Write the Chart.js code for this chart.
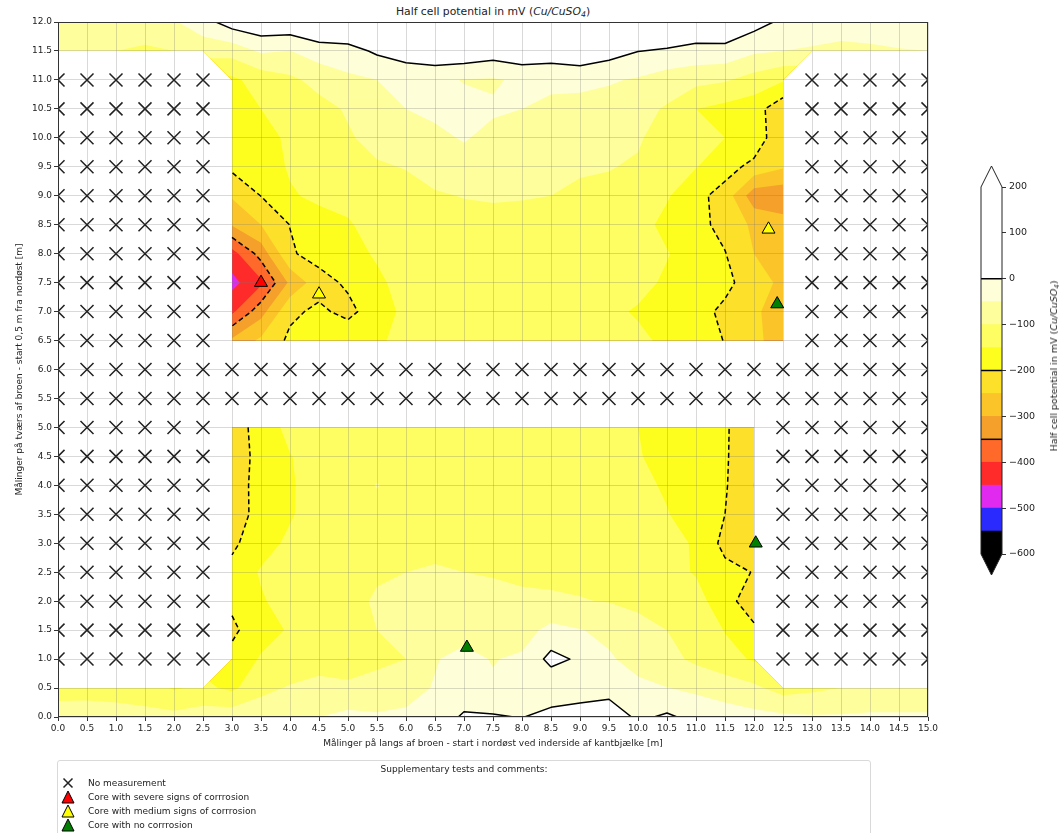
<!DOCTYPE html>
<html>
<head>
<meta charset="utf-8">
<script src="https://cdn.jsdelivr.net/npm/chart.js@4.4.1/dist/chart.umd.min.js"></script>
<style>
  html, body { margin: 0; padding: 0; background: #fff; }
  body { width: 1060px; height: 833px; position: relative; overflow: hidden;
         font-family: "DejaVu Sans", sans-serif; color: #222; }
  canvas { position: absolute; }
  #main { left: 0; top: 0; }
  #cbar { left: 960px; top: 150px; }
  #title { position: absolute; left: 0; top: 5px; width: 986px; text-align: center;
           font-size: 10.8px; line-height: 14px; }
  #cbtitle { position: absolute; left: 1054px; top: 366px; white-space: nowrap;
             transform: translate(-50%, -50%) rotate(-90deg); font-size: 9.5px; line-height: 12px; }
  sub { font-size: 0.72em; vertical-align: -0.25em; line-height: 0; }
  #legend { position: absolute; left: 57px; top: 760px; width: 812px; height: 90px;
            border: 1px solid #d9d9d9; border-radius: 3px; font-size: 9px; }
  #legend .head { position: absolute; left: 0; width: 100%; top: 2px; text-align: center; line-height: 12px; }
  #legend .row { position: absolute; left: 0; height: 14px; line-height: 14px; white-space: nowrap; }
  #legend .row svg { position: absolute; left: 2px; top: 0; }
  #legend .row span { position: absolute; left: 30px; top: 0; }
</style>
</head>
<body>
<div id="title">Half cell potential in mV (<i>Cu/CuSO<sub>4</sub></i>)</div>
<canvas id="main" width="1060" height="833"></canvas>
<canvas id="cbar" width="100" height="450"></canvas>
<div id="cbtitle">Half cell potential in mV (<i>Cu/CuSO<sub>4</sub></i>)</div>

<div id="legend">
  <div class="head">Supplementary tests and comments:</div>
  <div class="row" style="top:15px"><svg width="16" height="14"><path d="M3.5 2.5 L12.5 11.5 M12.5 2.5 L3.5 11.5" stroke="#222" stroke-width="1.5"/></svg><span>No measurement</span></div>
  <div class="row" style="top:29px"><svg width="16" height="14"><polygon points="8,1 14,13 2,13" fill="red" stroke="#000" stroke-width="1"/></svg><span>Core with severe signs of corrrosion</span></div>
  <div class="row" style="top:43px"><svg width="16" height="14"><polygon points="8,1 14,13 2,13" fill="yellow" stroke="#000" stroke-width="1"/></svg><span>Core with medium signs of corrrosion</span></div>
  <div class="row" style="top:57px"><svg width="16" height="14"><polygon points="8,1 14,13 2,13" fill="green" stroke="#000" stroke-width="1"/></svg><span>Core with no corrrosion</span></div>
</div>

<script>
// Measurement grid: x along the bridge, y across the bridge (metres)
const X_POS = [0, 0.5, 1, 1.5, 2, 2.5, 3, 3.5, 4, 4.5, 5, 5.5, 6, 6.5, 7, 7.5, 8, 8.5, 9, 9.5, 10, 10.5, 11, 11.5, 12, 12.5, 13, 13.5, 14, 14.5, 15];
const Y_POS = [0, 0.5, 1, 1.5, 2, 2.5, 3, 3.5, 4, 4.5, 5, 5.5, 6, 6.5, 7, 7.5, 8, 8.5, 9, 9.5, 10, 10.5, 11, 11.5, 12];

// Half cell potential (mV) per row; null = no measurement
const _ = null;
const r000 = [-75, -80, -80, -85, -85, -75, -70, -65, -55, -50, -40, -45, -45, -40, 10, 5, -2, 20, 30, 35, -10, 8, -15, -30, -35, -40, -45, -45, -40, -40, -40];
const r005 = [-120, -115, -120, -125, -155, -140, -160, -115, -95, -85, -80, -75, -60, -48, -45, -45, -48, -40, -32, -22, -40, -49, -60, -70, -90, -120, -110, -100, -100, -100, -100];
const r010 = [_, _, _, _, _, _, -185, -145, -135, -120, -152, -115, -100, -52, -40, -52, -43, 15, -8, -45, -65, -85, -110, -135, -155, _, _, _, _, _, _];
const r015 = [_, _, _, _, _, _, -210, -170, -145, -120, -110, -100, -85, -70, -62, -70, -70, -35, -48, -60, -88, -100, -120, -152, -195, _, _, _, _, _, _];
const r020 = [_, _, _, _, _, _, -190, -155, -130, -115, -105, -98, -92, -88, -90, -92, -95, -95, -98, -102, -108, -118, -125, -190, -215, _, _, _, _, _, _];
const r025 = [_, _, _, _, _, _, -185, -145, -135, -120, -110, -102, -100, -98, -100, -102, -105, -108, -110, -112, -118, -130, -155, -185, -202, _, _, _, _, _, _];
const r030 = [_, _, _, _, _, _, -210, -170, -140, -125, -115, -110, -108, -105, -108, -110, -112, -115, -118, -120, -128, -135, -155, -215, -230, _, _, _, _, _, _];
const r035 = [_, _, _, _, _, _, -228, -180, -155, -125, -118, -115, -112, -110, -112, -115, -118, -120, -122, -125, -135, -148, -170, -200, -235, _, _, _, _, _, _];
const r040 = [_, _, _, _, _, _, -220, -185, -155, -130, -120, -98, -118, -115, -115, -118, -120, -122, -125, -130, -140, -155, -170, -195, -252, _, _, _, _, _, _];
const r045 = [_, _, _, _, _, _, -225, -185, -152, -130, -125, -120, -120, -118, -118, -120, -122, -125, -130, -135, -148, -160, -175, -195, -235, _, _, _, _, _, _];
const r050 = [_, _, _, _, _, _, -225, -180, -135, -130, -125, -125, -125, -120, -120, -125, -125, -130, -135, -140, -150, -165, -180, -195, -230, _, _, _, _, _, _];
const r055 = [_, _, _, _, _, _, _, _, _, _, _, _, _, _, _, _, _, _, _, _, _, _, _, _, _, _, _, _, _, _, _];
const r060 = [_, _, _, _, _, _, _, _, _, _, _, _, _, _, _, _, _, _, _, _, _, _, _, _, _, _, _, _, _, _, _];
const r065 = [_, _, _, _, _, _, -290, -240, -190, -175, -161, -155, -140, -130, -128, -128, -128, -130, -135, -138, -140, -160, -175, -202, -245, -260, _, _, _, _, _];
const r070 = [_, _, _, _, _, _, -410, -320, -210, -190, -215, -170, -140, -130, -128, -128, -128, -130, -132, -140, -155, -165, -180, -212, -245, -265, _, _, _, _, _];
const r075 = [_, _, _, _, _, _, -465, -410, -290, -220, -191, -158, -135, -128, -125, -125, -125, -128, -130, -135, -135, -158, -175, -185, -230, -260, _, _, _, _, _];
const r080 = [_, _, _, _, _, _, -420, -330, -206, -181, -165, -145, -130, -125, -122, -120, -120, -122, -125, -125, -125, -147, -175, -198, -250, -265, _, _, _, _, _];
const r085 = [_, _, _, _, _, _, -295, -250, -199, -170, -155, -130, -125, -120, -118, -115, -115, -118, -120, -120, -130, -165, -185, -215, -260, -280, _, _, _, _, _];
const r090 = [_, _, _, _, _, _, -245, -199, -155, -140, -135, -120, -115, -105, -98, -95, -97, -100, -108, -110, -110, -145, -185, -220, -330, -335, _, _, _, _, _];
const r095 = [_, _, _, _, _, _, -189, -175, -145, -130, -120, -105, -98, -80, -65, -75, -85, -90, -95, -98, -105, -135, -148, -180, -215, -245, _, _, _, _, _];
const r100 = [_, _, _, _, _, _, -170, -160, -145, -125, -105, -85, -70, -58, -47, -60, -70, -75, -80, -90, -95, -120, -140, -150, -165, -245, _, _, _, _, _];
const r105 = [_, _, _, _, _, _, -165, -150, -135, -115, -95, -75, -50, -42, -38, -45, -50, -60, -65, -70, -85, -105, -150, -165, -178, -235, _, _, _, _, _];
const r110 = [_, _, _, _, _, _, -160, -130, -110, -85, -60, -50, -45, -40, -52, -55, -42, -40, -38, -45, -55, -75, -85, -95, -120, -145, _, _, _, _, _];
const r115 = [-95, -90, -100, -108, -100, -80, -80, -43, -51, -24, -19, 8, 31, 41, 40, 26, 38, 30, 40, 21, 1, -5, -16, -14, -42, -50, -55, -58, -55, -52, -50];
const r120 = [-80, -60, -70, -70, -55, -20, 25, 40, 40, 55, 60, 70, 80, 90, 85, 80, 85, 80, 90, 75, 55, 50, 45, 40, 20, -10, -25, -35, -35, -30, -30];
const GRID = [r000, r005, r010, r015, r020, r025, r030, r035, r040, r045, r050, r055, r060,
              r065, r070, r075, r080, r085, r090, r095, r100, r105, r110, r115, r120];

// Cores taken for supplementary tests
const coresSevere = [{ x: 3.5, y: 7.5 }];
const coresMedium = [{ x: 4.5, y: 7.3 }, { x: 12.25, y: 8.42 }];
const coresNone = [{ x: 12.4, y: 7.13 }, { x: 12.03, y: 3.0 }, { x: 7.05, y: 1.2 }];

// Colour classes (mV) and contour lines
const BAND_EDGES = [-600, -550, -500, -450, -400, -350, -300, -250, -200, -150, -100, -50, 0, 200];
const BAND_COLOURS = ['#000000', '#2a2aff', '#e02af0', '#ff2a2a', '#ff6a2a', '#f5a02a', '#fbc52a',
                      '#fde02a', '#fefe1e', '#fefe62', '#fefe9c', '#fefed8', '#ffffff'];
const LINE_LEVELS = [0, -200, -350];
const CBAR_TICKS = [-600, -500, -400, -300, -200, -100, 0, 100, 200];

const noMeasurement = [];
GRID.forEach((row, j) => row.forEach((v, i) => {
  if (v === null) noMeasurement.push({ x: X_POS[i], y: Y_POS[j] });
}));

// ---------- contouring helpers (marching squares on the grid) ----------
function corner(i, j) {
  const v = GRID[j][i];
  return v === null ? null : { x: X_POS[i], y: Y_POS[j], v };
}
function cellCorners(i, j) {
  return [corner(i, j), corner(i + 1, j), corner(i + 1, j + 1), corner(i, j + 1)];
}
function interp(p, q, t) {
  let a = p, b = q;
  if (a.x > b.x || (a.x === b.x && a.y > b.y)) { a = q; b = p; }
  const f = (t - a.v) / (b.v - a.v);
  return { x: a.x + f * (b.x - a.x), y: a.y + f * (b.y - a.y) };
}
function isSaddle(up) {
  return (up[0] && up[2] && !up[1] && !up[3]) || (!up[0] && !up[2] && up[1] && up[3]);
}
// polygons covering the part of the grid where value >= t
function regionPolys(t) {
  const polys = [];
  for (let j = 0; j < Y_POS.length - 1; j++) {
    for (let i = 0; i < X_POS.length - 1; i++) {
      const c = cellCorners(i, j);
      const pts = c.filter(p => p !== null);
      if (pts.length < 3) continue;
      const n = pts.length;
      const up = pts.map(p => p.v >= t);
      if (n === 4 && isSaddle(up)) {
        const centre = (pts[0].v + pts[1].v + pts[2].v + pts[3].v) / 4;
        if (centre < t) {
          for (const k of (up[0] ? [0, 2] : [1, 3])) {
            const prev = pts[(k + 3) % 4], cur = pts[k], next = pts[(k + 1) % 4];
            polys.push([interp(prev, cur, t), cur, interp(cur, next, t)]);
          }
          continue;
        }
      }
      const poly = [];
      for (let k = 0; k < n; k++) {
        const p = pts[k], q = pts[(k + 1) % n];
        if (up[k]) poly.push(p);
        if (up[k] !== up[(k + 1) % n]) poly.push(interp(p, q, t));
      }
      if (poly.length >= 3) polys.push(poly);
    }
  }
  return polys;
}
// line segments where value == t
function levelSegments(t) {
  const segs = [];
  for (let j = 0; j < Y_POS.length - 1; j++) {
    for (let i = 0; i < X_POS.length - 1; i++) {
      const pts = cellCorners(i, j).filter(p => p !== null);
      if (pts.length < 3) continue;
      const n = pts.length;
      const up = pts.map(p => p.v >= t);
      const cross = pts.map((p, k) => up[k] !== up[(k + 1) % n] ? interp(p, pts[(k + 1) % n], t) : null);
      if (n === 4 && isSaddle(up)) {
        const centre = (pts[0].v + pts[1].v + pts[2].v + pts[3].v) / 4;
        const joined = centre >= t;
        const cut = joined ? (up[0] ? [1, 3] : [0, 2]) : (up[0] ? [0, 2] : [1, 3]);
        for (const k of cut) segs.push([cross[(k + 3) % 4], cross[k]]);
      } else {
        const c = cross.filter(Boolean);
        if (c.length === 2) segs.push(c);
      }
    }
  }
  return segs;
}
const keyOf = p => p.x.toFixed(6) + ',' + p.y.toFixed(6);
function chainSegments(segs) {
  const adj = new Map();
  segs.forEach((s, i) => s.forEach(p => {
    const k = keyOf(p);
    if (!adj.has(k)) adj.set(k, []);
    adj.get(k).push(i);
  }));
  const used = new Array(segs.length).fill(false);
  const lines = [];
  for (let i = 0; i < segs.length; i++) {
    if (used[i]) continue;
    used[i] = true;
    let line = [segs[i][0], segs[i][1]];
    for (let pass = 0; pass < 2; pass++) {
      for (;;) {
        const end = line[line.length - 1];
        const ek = keyOf(end);
        const next = (adj.get(ek) || []).find(j => !used[j]);
        if (next === undefined) break;
        used[next] = true;
        const s = segs[next];
        line.push(keyOf(s[0]) === ek ? s[1] : s[0]);
      }
      line.reverse();
    }
    lines.push(line);
  }
  return lines;
}

// ---------- plugins ----------
const contourPlugin = {
  id: 'contourFill',
  beforeDraw(chart) {
    const { ctx, chartArea: a, scales: { x, y } } = chart;
    ctx.save();
    ctx.beginPath();
    ctx.rect(a.left, a.top, a.right - a.left, a.bottom - a.top);
    ctx.clip();
    const fillRegion = (t, colour) => {
      const polys = regionPolys(t);
      ctx.beginPath();
      for (const poly of polys) {
        poly.forEach((p, k) => {
          const px = x.getPixelForValue(p.x), py = y.getPixelForValue(p.y);
          if (k === 0) ctx.moveTo(px, py); else ctx.lineTo(px, py);
        });
        ctx.closePath();
      }
      ctx.fillStyle = colour;
      ctx.fill();
    };
    fillRegion(-Infinity, BAND_COLOURS[0]);
    for (let b = 1; b < BAND_COLOURS.length; b++) fillRegion(BAND_EDGES[b], BAND_COLOURS[b]);
    ctx.restore();
  },
  beforeDatasetsDraw(chart) {
    const { ctx, chartArea: a, scales: { x, y } } = chart;
    ctx.save();
    ctx.beginPath();
    ctx.rect(a.left, a.top, a.right - a.left, a.bottom - a.top);
    ctx.clip();
    ctx.strokeStyle = '#000';
    ctx.lineWidth = 1.5;
    ctx.lineJoin = 'round';
    for (const lev of LINE_LEVELS) {
      ctx.setLineDash(lev < 0 ? [5, 3] : []);
      for (const line of chainSegments(levelSegments(lev))) {
        ctx.beginPath();
        line.forEach((p, k) => {
          const px = x.getPixelForValue(p.x), py = y.getPixelForValue(p.y);
          if (k === 0) ctx.moveTo(px, py); else ctx.lineTo(px, py);
        });
        ctx.stroke();
      }
    }
    ctx.restore();
  },
  afterDraw(chart) {
    const { ctx, chartArea: a } = chart;
    ctx.save();
    ctx.strokeStyle = '#333';
    ctx.lineWidth = 1;
    ctx.strokeRect(Math.round(a.left) + 0.5, Math.round(a.top) + 0.5,
                   Math.round(a.right - a.left) - 1, Math.round(a.bottom - a.top) - 1);
    ctx.restore();
  }
};

const FONT = { family: '"DejaVu Sans", sans-serif', size: 9 };
const fmt1 = v => Number(v).toFixed(1);

new Chart(document.getElementById('main'), {
  type: 'scatter',
  data: {
    datasets: [
      { label: 'No measurement', data: noMeasurement, pointStyle: 'crossRot', radius: 9.2,
        borderColor: '#222', borderWidth: 1.5, backgroundColor: 'rgba(0,0,0,0)' },
      { label: 'Core with severe signs of corrrosion', data: coresSevere, pointStyle: 'triangle',
        radius: 7.5, backgroundColor: 'red', borderColor: '#000', borderWidth: 1 },
      { label: 'Core with medium signs of corrrosion', data: coresMedium, pointStyle: 'triangle',
        radius: 7.5, backgroundColor: 'yellow', borderColor: '#000', borderWidth: 1 },
      { label: 'Core with no corrrosion', data: coresNone, pointStyle: 'triangle',
        radius: 7.5, backgroundColor: 'green', borderColor: '#000', borderWidth: 1 }
    ]
  },
  options: {
    responsive: false,
    animation: false,
    devicePixelRatio: 1,
    layout: { padding: { left: 10, top: 22, right: 132, bottom: 80 } },
    plugins: { legend: { display: false }, tooltip: { enabled: false } },
    scales: {
      x: {
        type: 'linear', min: 0, max: 15,
        ticks: { stepSize: 0.5, autoSkip: false, maxRotation: 0, callback: fmt1,
                 font: FONT, color: '#222', padding: 2 },
        grid: { color: 'rgba(120,120,120,0.28)', tickColor: '#333', tickLength: 4 },
        border: { display: false },
        title: { display: true, text: 'Målinger på langs af broen - start i nordøst ved inderside af kantbjælke [m]',
                 font: FONT, color: '#222', padding: { top: 2, bottom: 4 } },
        afterFit(s) { s.height = 36; }
      },
      y: {
        type: 'linear', min: 0, max: 12,
        ticks: { stepSize: 0.5, autoSkip: false, callback: fmt1, font: FONT, color: '#222', padding: 2 },
        grid: { color: 'rgba(120,120,120,0.28)', tickColor: '#333', tickLength: 4 },
        border: { display: false },
        title: { display: true, text: 'Målinger på tværs af broen - start 0,5 m fra nordøst [m]',
                 font: FONT, color: '#222', padding: { top: 4, bottom: 4 } },
        afterFit(s) { s.width = 48; }
      }
    }
  },
  plugins: [contourPlugin]
});

// ---------- colour bar ----------
const cbarPlugin = {
  id: 'cbarFrame',
  afterDatasetsDraw(chart) {
    const { ctx, chartArea: a, scales: { y } } = chart;
    const top = y.getPixelForValue(BAND_EDGES[BAND_EDGES.length - 1]);
    const bot = y.getPixelForValue(BAND_EDGES[0]);
    const ext = 21;
    const mid = (a.left + a.right) / 2;
    ctx.save();
    ctx.beginPath();
    ctx.moveTo(a.left, top); ctx.lineTo(mid, top - ext); ctx.lineTo(a.right, top); ctx.closePath();
    ctx.fillStyle = BAND_COLOURS[BAND_COLOURS.length - 1]; ctx.fill();
    ctx.beginPath();
    ctx.moveTo(a.left, bot); ctx.lineTo(mid, bot + ext); ctx.lineTo(a.right, bot); ctx.closePath();
    ctx.fillStyle = BAND_COLOURS[0]; ctx.fill();
    ctx.strokeStyle = '#000';
    ctx.lineWidth = 1.5;
    for (const lev of LINE_LEVELS) {
      const py = y.getPixelForValue(lev);
      ctx.beginPath(); ctx.moveTo(a.left, py); ctx.lineTo(a.right, py); ctx.stroke();
    }
    ctx.lineWidth = 1;
    ctx.strokeStyle = '#222';
    ctx.beginPath();
    ctx.moveTo(a.left, top); ctx.lineTo(mid, top - ext); ctx.lineTo(a.right, top);
    ctx.lineTo(a.right, bot); ctx.lineTo(mid, bot + ext); ctx.lineTo(a.left, bot); ctx.closePath();
    ctx.stroke();
    ctx.restore();
  }
};

const bandSets = BAND_COLOURS.map((c, b) => ({
  data: [[BAND_EDGES[b], BAND_EDGES[b + 1]]],
  backgroundColor: c, borderWidth: 0, grouped: false,
  barPercentage: 1, categoryPercentage: 1
}));

new Chart(document.getElementById('cbar'), {
  type: 'bar',
  data: { labels: [''], datasets: bandSets },
  options: {
    responsive: false,
    animation: false,
    devicePixelRatio: 1,
    layout: { padding: { left: 21, top: 37, right: 0, bottom: 46 } },
    plugins: { legend: { display: false }, tooltip: { enabled: false } },
    scales: {
      x: { display: false },
      y: {
        position: 'right', min: BAND_EDGES[0], max: BAND_EDGES[BAND_EDGES.length - 1],
        afterBuildTicks(s) { s.ticks = CBAR_TICKS.map(v => ({ value: v })); },
        ticks: { autoSkip: false, font: { family: '"DejaVu Sans", sans-serif', size: 9.5 }, color: '#222', padding: 3,
                 callback: v => (v < 0 ? '\u2212' + Math.abs(v) : String(v)) },
        grid: { drawOnChartArea: false, tickColor: '#333', tickLength: 4 },
        border: { display: false },
        afterFit(s) { s.width = 58; }
      }
    }
  },
  plugins: [cbarPlugin]
});
</script>
</body>
</html>
